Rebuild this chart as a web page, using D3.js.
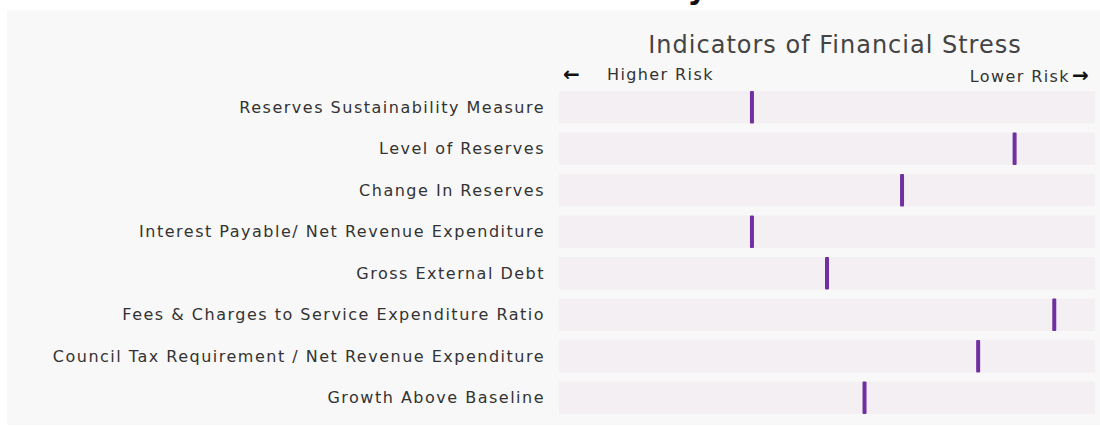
<!DOCTYPE html>
<html>
<head>
<meta charset="utf-8">
<script src="https://cdn.jsdelivr.net/npm/d3@7"></script>
<style>
  body { margin: 0; background: #fff; }
  svg text { font-family: "DejaVu Sans", Verdana, sans-serif; }
</style>
</head>
<body>
<div id="chart"></div>
<script>
// Indicators, top to bottom
const indicators = [
  "Reserves Sustainability Measure",
  "Level of Reserves",
  "Change In Reserves",
  "Interest Payable/ Net Revenue Expenditure",
  "Gross External Debt",
  "Fees & Charges to Service Expenditure Ratio",
  "Council Tax Requirement / Net Revenue Expenditure",
  "Growth Above Baseline"
];

// Position on the risk scale (0 = higher risk, 100 = lower risk)
const scores = [36, 85, 64, 36, 50, 92.4, 78.2, 57];

const width  = 1100;
const height = 426;

const svg = d3.select("#chart").append("svg")
  .attr("width", width)
  .attr("height", height);

// page heading, mostly scrolled out of view in the reference
svg.append("text")
  .attr("x", 707).attr("y", -1)
  .attr("text-anchor", "end")
  .style("font-size", "30px")
  .style("font-weight", "bold")
  .style("fill", "#111")
  .text("Financial Sustainability");

// panel
svg.append("rect")
  .attr("x", 7).attr("y", 10)
  .attr("width", width - 7).attr("height", 415)
  .attr("fill", "#f8f8f8");

const x = d3.scaleLinear().domain([0, 100]).range([559, 1095]);
const y = d3.scaleBand().domain(indicators).range([91, 414]).paddingInner(0.22);

// title
svg.append("text")
  .attr("x", 835).attr("y", 53)
  .attr("text-anchor", "middle")
  .style("font-size", "24px")
  .style("letter-spacing", "1px")
  .style("fill", "#444")
  .text("Indicators of Financial Stress");

// direction hints
svg.append("text")
  .attr("x", 563).attr("y", 81)
  .style("font-size", "20px").style("font-weight", "bold").style("fill", "#111")
  .text("\u2190");
svg.append("text")
  .attr("x", 607).attr("y", 80)
  .style("font-size", "16px").style("letter-spacing", "1.4px").style("fill", "#333")
  .text("Higher Risk");
svg.append("text")
  .attr("x", 1070).attr("y", 82)
  .attr("text-anchor", "end")
  .style("font-size", "16px").style("letter-spacing", "1.4px").style("fill", "#333")
  .text("Lower Risk");
svg.append("text")
  .attr("x", 1072).attr("y", 82)
  .style("font-size", "20px").style("font-weight", "bold").style("fill", "#111")
  .text("\u2192");

// rows
const rows = svg.append("g").selectAll("g")
  .data(indicators)
  .join("g");

rows.append("rect")
  .attr("x", x(0))
  .attr("y", d => y(d))
  .attr("width", x(100) - x(0))
  .attr("height", y.bandwidth())
  .attr("fill", "#f3eff3");

rows.append("text")
  .attr("x", 545)
  .attr("y", d => y(d) + y.bandwidth() / 2)
  .attr("dy", "0.35em")
  .attr("text-anchor", "end")
  .style("font-size", "16px")
  .style("letter-spacing", "1.5px")
  .style("fill", "#333")
  .text(d => d);

// markers
svg.append("g").selectAll("rect")
  .data(indicators)
  .join("rect")
  .attr("x", (d, i) => x(scores[i]) - 2)
  .attr("y", d => y(d))
  .attr("width", 4)
  .attr("height", y.bandwidth())
  .attr("rx", 1)
  .attr("fill", "#7030a0");
</script>
</body>
</html>
